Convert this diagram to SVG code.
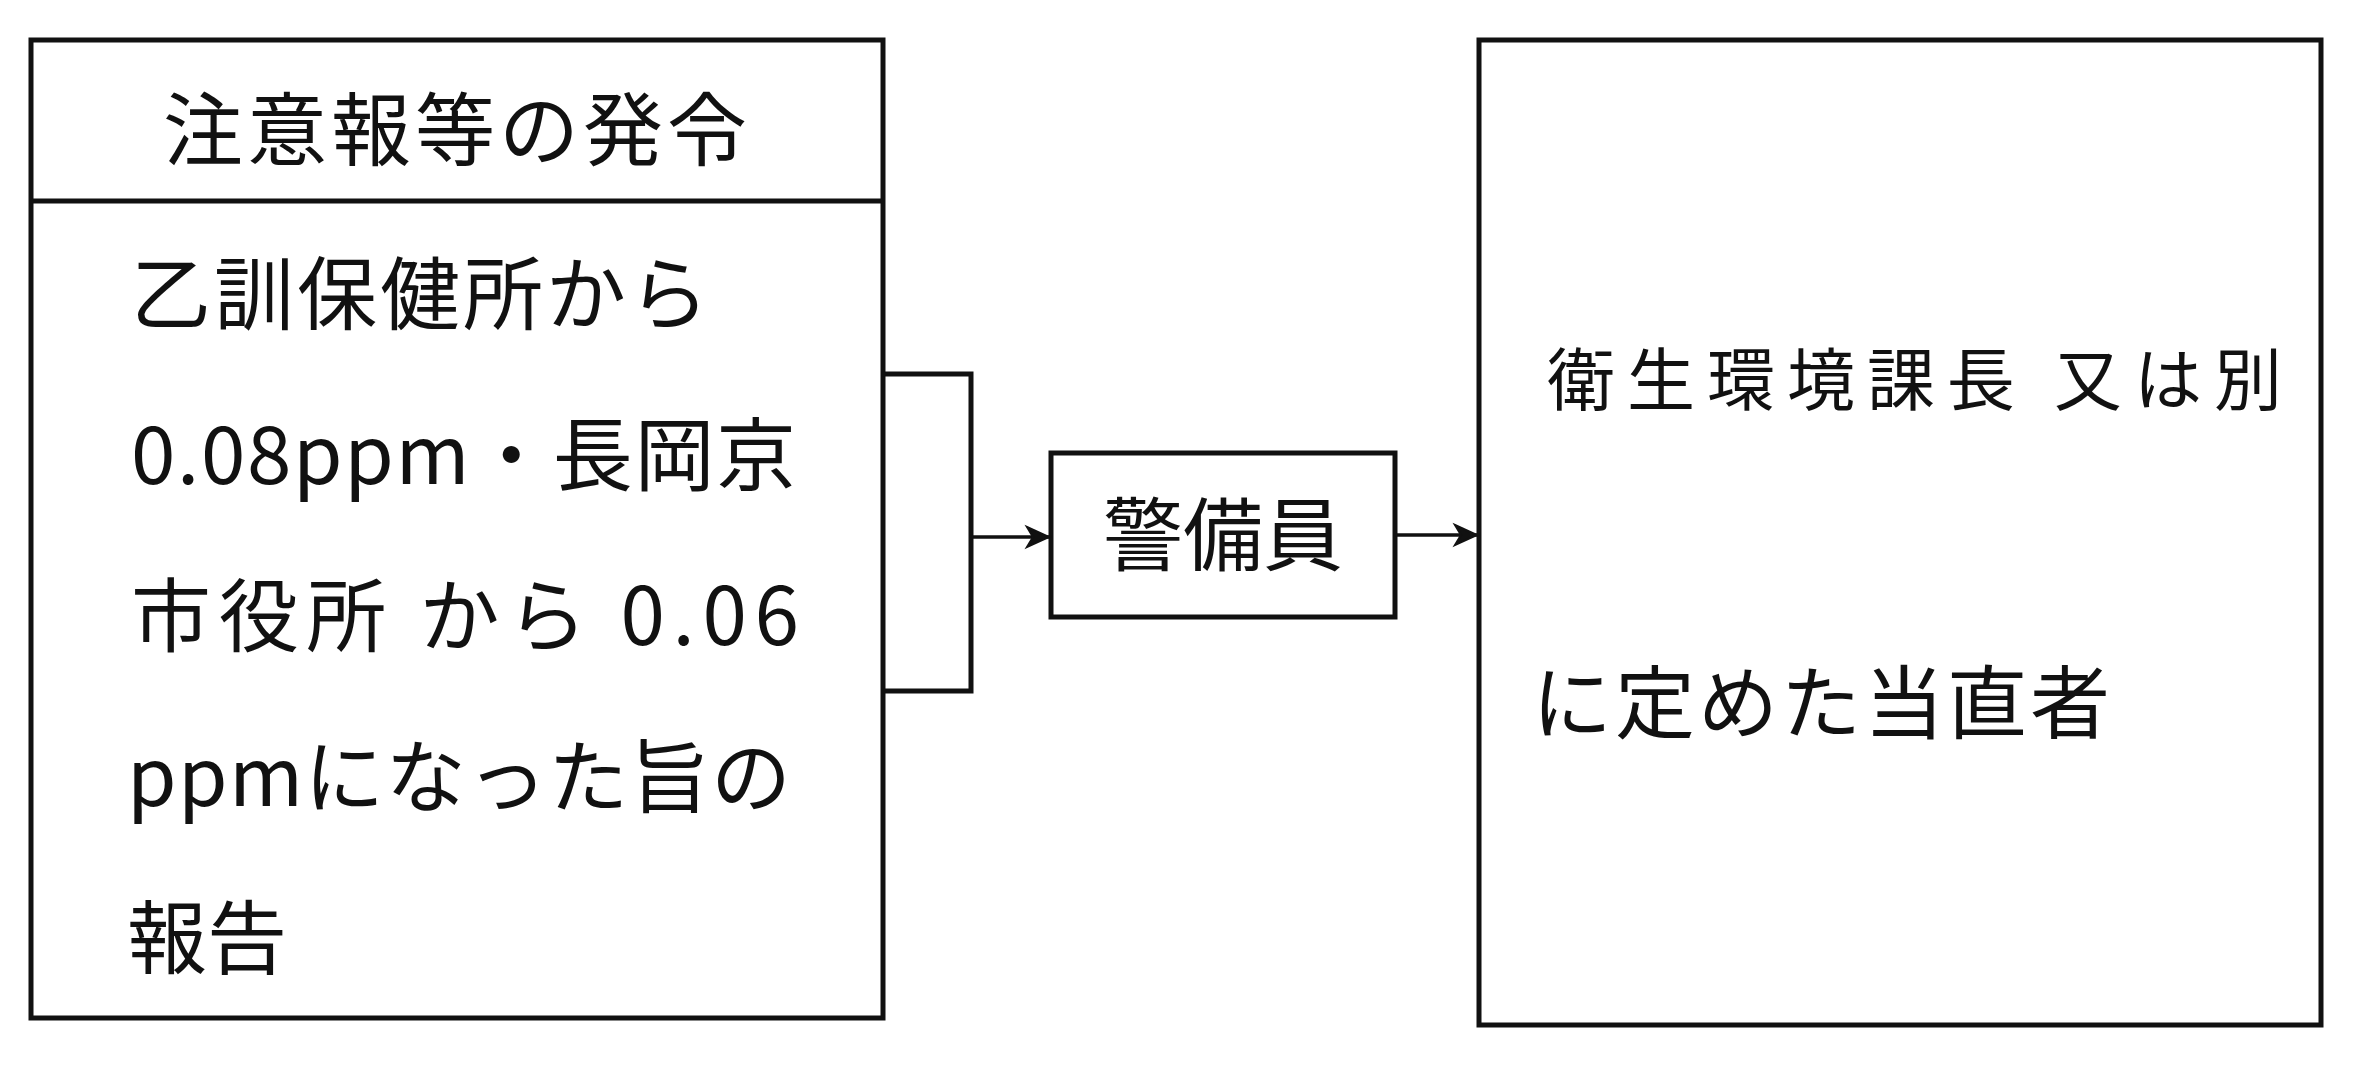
<svg xmlns="http://www.w3.org/2000/svg" width="2363" height="1066" viewBox="0 0 2363 1066">
<style>
.box{fill:#fff;stroke:#111;stroke-width:5}
.ln{fill:none;stroke:#111;stroke-width:5}
.ar{fill:none;stroke:#111;stroke-width:3.5}
.t{font-family:"Noto Sans CJK JP","Noto Sans CJK SC",sans-serif;font-size:80px;fill:#111}
.s{font-size:68px}
</style>
<defs>
<marker id="ah" markerUnits="userSpaceOnUse" markerWidth="30" markerHeight="26" refX="26" refY="13" orient="auto">
<path d="M4,3 L26,13 L4,23 L10,13 Z" fill="#111" stroke="#111" stroke-width="2"/>
</marker>
</defs>
<rect width="2363" height="1066" fill="#fff"/>
<g id="node-left">
<rect class="box" x="31" y="40" width="852" height="978"/>
<line class="ln" x1="31" y1="201" x2="883" y2="201"/>
<text class="t" x="457" y="159" text-anchor="middle" letter-spacing="4">注意報等の発令</text>
<text class="t" x="131" y="323" textLength="578" lengthAdjust="spacing">乙訓保健所から</text>
<text class="t" x="131" y="484" textLength="665" lengthAdjust="spacing">0.08ppm・長岡京</text>
<text class="t" x="131" y="645" textLength="668" lengthAdjust="spacing">市役所 から 0.06</text>
<text class="t" x="127" y="806" textLength="664" lengthAdjust="spacing">ppmになった旨の</text>
<text class="t" x="127" y="967">報告</text>
</g>
<g id="node-guard">
<rect class="box" x="1051" y="453" width="344" height="164"/>
<text class="t" x="1223" y="564" text-anchor="middle">警備員</text>
</g>
<g id="node-right">
<rect class="box" x="1479" y="40" width="842" height="985"/>
<text class="t s" x="1547" y="405" textLength="735" lengthAdjust="spacing">衛生環境課長 又は別</text>
<text class="t" x="1532" y="732" textLength="578" lengthAdjust="spacing">に定めた当直者</text>
</g>
<g id="connectors">
<path class="ln" d="M883 374 H971 V691 H883"/>
<line class="ar" x1="971" y1="537" x2="1049" y2="537" marker-end="url(#ah)"/>
<line class="ar" x1="1395" y1="535" x2="1477" y2="535" marker-end="url(#ah)"/>
</g>
</svg>
